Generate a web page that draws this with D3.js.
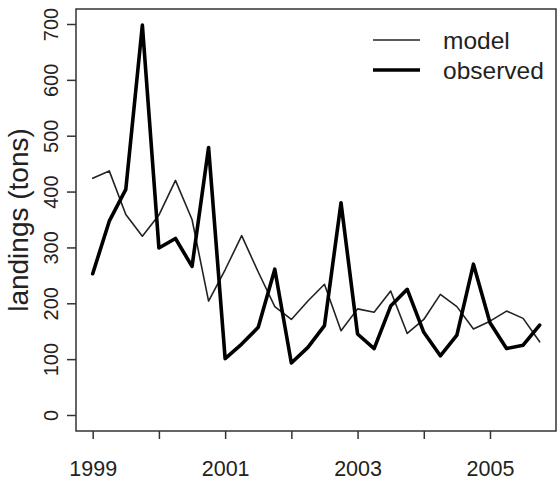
<!DOCTYPE html>
<html>
<head>
<meta charset="utf-8">
<script src="https://cdn.jsdelivr.net/npm/d3@7"></script>
<style>
  html, body { margin: 0; padding: 0; background: #fff; }
  svg { display: block; }
  text { font-family: "Liberation Sans", Arial, Helvetica, sans-serif; fill: #222; }
</style>
</head>
<body>
<svg id="chart" width="557" height="481"></svg>
<script>
// ---- data (quarterly, 1999 Q1 .. 2005 Q4) ----
const time = [1999, 1999.25, 1999.5, 1999.75, 2000, 2000.25, 2000.5, 2000.75,
              2001, 2001.25, 2001.5, 2001.75, 2002, 2002.25, 2002.5, 2002.75,
              2003, 2003.25, 2003.5, 2003.75, 2004, 2004.25, 2004.5, 2004.75,
              2005, 2005.25, 2005.5, 2005.75];
const model = [424, 437, 359, 320, 358, 420, 350, 204,
               260, 321, 256, 194, 171, 204, 234, 151,
               190, 184, 222, 146, 171, 216, 194, 154,
               168, 186, 173, 131];
const observed = [253, 347, 404, 698, 299, 316, 266, 479,
                  101, 127, 157, 261, 93, 121, 160, 380,
                  145, 119, 195, 225, 148, 106, 143, 270,
                  165, 119, 125, 161];
const xTicks = [1999, 2000, 2001, 2002, 2003, 2004, 2005];
const xTickLabels = ["1999", "", "2001", "", "2003", "", "2005"];
const yTicks = [0, 100, 200, 300, 400, 500, 600, 700];
const seriesNames = ["model", "observed"];
const yTitle = "landings (tons)";

// ---- layout ----
const box = { left: 76, right: 556, top: 9, bottom: 431 };
const svg = d3.select("#chart");

const x = d3.scaleLinear().domain([1999, 2005]).range([92.7, 490]);
const y = d3.scaleLinear().domain([0, 700]).range([415, 24]);

// plot frame
svg.append("rect")
  .attr("x", box.left).attr("y", box.top)
  .attr("width", box.right - box.left).attr("height", box.bottom - box.top)
  .attr("fill", "none").attr("stroke", "#333").attr("stroke-width", 1.5);

// x axis
const xAxis = d3.axisBottom(x).tickValues(xTicks)
  .tickFormat((d, i) => xTickLabels[i]).tickSize(8).tickPadding(22);
const gx = svg.append("g").attr("transform", `translate(0,${box.bottom})`).call(xAxis);
gx.select(".domain").remove();
gx.selectAll(".tick line").attr("stroke", "#333").attr("stroke-width", 1.5);
gx.selectAll(".tick text").attr("font-size", 21.5).attr("fill", "#222")
  .attr("font-family", "Liberation Sans, Arial, sans-serif");

// y axis
const yAxis = d3.axisLeft(y).tickValues(yTicks).tickSize(9).tickPadding(0);
const gy = svg.append("g").attr("transform", `translate(${box.left},0)`).call(yAxis);
gy.select(".domain").remove();
gy.selectAll(".tick line").attr("stroke", "#333").attr("stroke-width", 1.5);
gy.selectAll(".tick text")
  .attr("font-size", 20).attr("fill", "#222")
  .attr("font-family", "Liberation Sans, Arial, sans-serif")
  .attr("x", null).attr("dy", null)
  .attr("text-anchor", "middle")
  .attr("transform", "translate(-25,0) rotate(-90)")
  .attr("y", 0).attr("dy", "0.35em");

// y title
svg.append("text")
  .attr("transform", `translate(28,${220}) rotate(-90)`)
  .attr("text-anchor", "middle")
  .attr("font-size", 28)
  .attr("fill", "#222")
  .text(yTitle);

// lines
const line = d3.line().x((d, i) => x(time[i])).y(d => y(d));
svg.append("path").datum(model)
  .attr("d", line).attr("fill", "none")
  .attr("stroke", "#222").attr("stroke-width", 1.6)
  .attr("stroke-linejoin", "round").attr("stroke-linecap", "round");
svg.append("path").datum(observed)
  .attr("d", line).attr("fill", "none")
  .attr("stroke", "#000").attr("stroke-width", 3.6)
  .attr("stroke-linejoin", "round").attr("stroke-linecap", "round");

// legend
const legend = svg.append("g");
const legendWidths = [1.6, 3.6];
seriesNames.forEach((name, i) => {
  const ly = 40 + i * 30;
  legend.append("line")
    .attr("x1", 373).attr("x2", 420).attr("y1", ly).attr("y2", ly)
    .attr("stroke", i === 0 ? "#222" : "#000").attr("stroke-width", legendWidths[i]);
  legend.append("text")
    .attr("x", 443).attr("y", ly).attr("dy", "0.35em")
    .attr("font-size", 24.5).attr("fill", "#222")
    .text(name);
});
</script>
</body>
</html>
